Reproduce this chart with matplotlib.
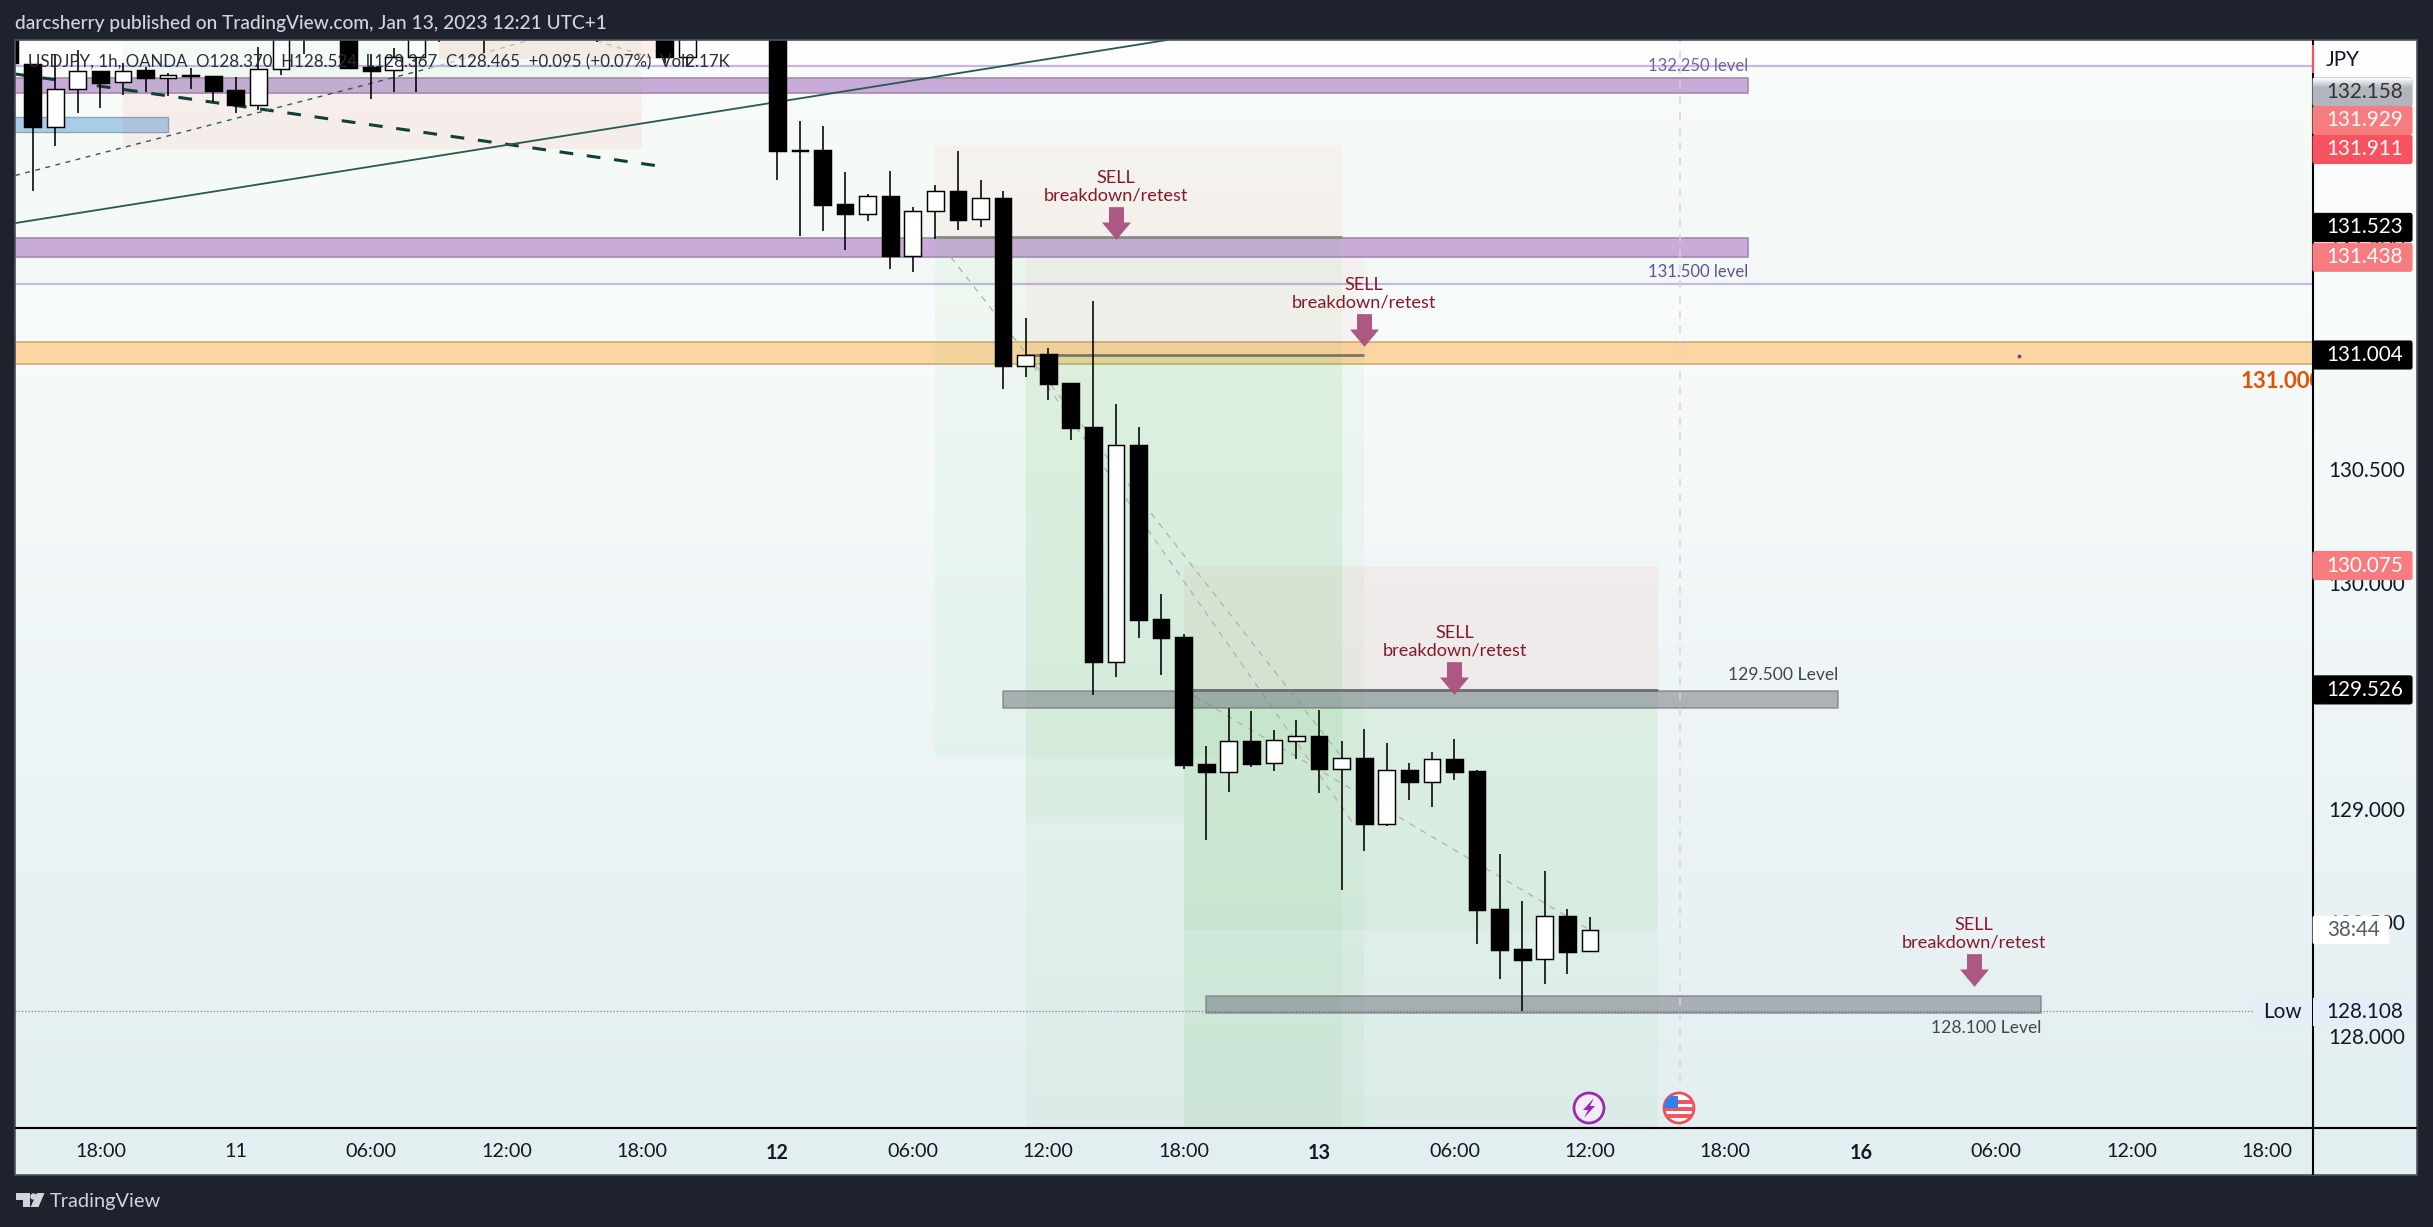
import matplotlib
matplotlib.use('Agg')
import matplotlib.pyplot as plt
import numpy as np
from matplotlib.colors import LinearSegmentedColormap
from matplotlib.patches import Rectangle, Circle, Polygon, FancyBboxPatch
from matplotlib.path import Path

W, H = 2433, 1227
plt.rcParams['font.family'] = ['Lato', 'DejaVu Sans']

# candles: bar number, 0 is the hour after the first 18:00 tick + 0
bars = [-4, -3, -2, -1, 0, 1, 2, 3, 4, 5, 6, 7, 8, 9, 11, 12, 13, 14, 15, 17, 22, 25, 26,
        30, 31, 32, 33, 34, 35, 36, 37, 38, 39, 40, 41, 42, 43, 44, 45, 46, 47, 48, 49,
        50, 51, 52, 53, 54, 55, 56, 57, 58, 59, 60, 61, 62, 63, 64, 65, 66]
opens = [132.45, 132.289, 132.012, 132.177, 132.256, 132.208, 132.262, 132.228, 132.239, 132.236,
         132.174, 132.106, 132.265, 132.50, 132.47, 132.274, 132.262, 132.318, 132.50, 132.52,
         132.50, 132.50, 132.321, 132.50, 131.908, 131.909, 131.671, 131.624, 131.706, 131.443,
         131.638, 131.727, 131.603, 131.697, 130.957, 131.007, 130.879, 130.687, 129.651, 130.607,
         129.839, 129.760, 129.198, 129.166, 129.301, 129.203, 129.302, 129.323, 129.179, 129.226,
         128.936, 129.173, 129.121, 129.222, 129.169, 128.560, 128.383, 128.338, 128.529, 128.373]
highs = [132.45, 132.289, 132.328, 132.350, 132.256, 132.293, 132.277, 132.248, 132.270, 132.236,
         132.230, 132.362, 132.47, 132.55, 132.50, 132.333, 132.358, 132.50, 132.55, 132.55,
         132.55, 132.52, 132.52, 132.52, 132.037, 132.015, 131.811, 131.714, 131.815, 131.658,
         131.755, 131.905, 131.777, 131.727, 131.168, 131.034, 130.879, 131.243, 130.788, 130.687,
         129.948, 129.773, 129.279, 129.445, 129.433, 129.350, 129.394, 129.438, 129.301, 129.354,
         129.292, 129.203, 129.252, 129.308, 129.173, 128.802, 128.595, 128.727, 128.560, 128.523]
lows = [132.293, 131.729, 131.928, 132.074, 132.096, 132.153, 132.165, 132.149, 132.178, 132.120,
        132.071, 132.086, 132.239, 132.333, 132.272, 132.135, 132.166, 132.164, 132.387, 132.337,
        132.383, 132.293, 132.277, 131.777, 131.531, 131.549, 131.469, 131.597, 131.385, 131.372,
        131.515, 131.557, 131.571, 130.856, 130.909, 130.807, 130.629, 129.505, 129.585, 129.757,
        129.594, 129.179, 128.864, 129.077, 129.188, 129.170, 129.222, 129.073, 128.643, 128.815,
        128.926, 129.041, 129.011, 129.129, 128.405, 128.252, 128.109, 128.230, 128.274, 128.373]
closes = [132.293, 132.012, 132.177, 132.256, 132.206, 132.259, 132.228, 132.239, 132.233, 132.171,
          132.105, 132.265, 132.42, 132.42, 132.272, 132.259, 132.318, 132.45, 132.45, 132.46,
          132.44, 132.321, 132.50, 131.902, 131.902, 131.668, 131.624, 131.705, 131.443, 131.638,
          131.727, 131.601, 131.696, 130.957, 131.006, 130.878, 130.684, 129.651, 130.606, 129.836,
          129.757, 129.196, 129.166, 129.300, 129.200, 129.304, 129.322, 129.177, 129.225, 128.936,
          129.172, 129.121, 129.220, 129.166, 128.555, 128.379, 128.336, 128.527, 128.371, 128.466]

time_ticks = [0, 6, 12, 18, 24, 30, 36, 42, 48, 54, 60, 66, 72, 78, 84, 90, 96]
time_labels = ['18:00', '11', '06:00', '12:00', '18:00', '12', '06:00', '12:00', '18:00', '13',
               '06:00', '12:00', '18:00', '16', '06:00', '12:00', '18:00']
bold_labels = ['12', '13', '16']
price_ticks = [128.0, 128.5, 129.0, 129.5, 130.0, 130.5, 131.0, 131.5, 132.0]

# horizontal zones, low/high prices
purple_lows = [132.162, 131.436]
purple_highs = [132.225, 131.519]
purple_end = 73
orange_low, orange_high = 130.963, 131.060
level_lines = [132.280, 131.318]
grey_starts = [40, 49]
grey_ends = [77, 86]
grey_lows = [129.445, 128.100]
grey_highs = [129.522, 128.177]

# position tools
pink_starts = [37, 41, 48, 1, 15]
pink_ends = [55, 56, 69, 24, 24.6]
pink_lows = [131.523, 131.004, 129.526, 131.911, 132.309]
pink_highs = [131.929, 131.438, 130.075, 132.158, 132.5]
pink_alphas = [0.045, 0.045, 0.06, 0.07, 0.09]
green_starts = [37, 41, 41, 48, 48, 48, 1]
green_ends = [55, 56, 55, 69, 69, 55, 24]
green_lows = [129.230, 127.5, 128.939, 127.5, 128.467, 127.5, 132.158]
green_highs = [131.523, 131.004, 131.004, 129.526, 129.526, 128.939, 132.5]
entry_starts = [37, 41, 48]
entry_ends = [55, 56, 69]
entry_prices = [131.523, 131.004, 129.526]
entry_colors = ['#8a8a85', '#77776a', '#666a6a']
diag_x = [(37, 55), (41, 55.5), (48, 66)]
diag_y = [(131.523, 129.230), (131.004, 128.939), (129.526, 128.467)]

# trend lines
thick_dash_x, thick_dash_y = [-3.78, 24.6], [132.244, 131.840]
solid_x, solid_y = [-3.78, 47.27], [131.586, 132.394]
thin_dash_x, thin_dash_y = [-3.78, 14.6], [131.796, 132.27]
thin_grey_x, thin_grey_y = [14.6, 19.06], [132.27, 132.394]
fade_x, fade_y = [22, 24.6], [132.39, 132.31]

sell_bars = [45, 56, 60, 83]
sell_text_prices = [131.746, 131.274, 129.739, 128.451]
arrow_prices = [131.587, 131.113, 129.577, 128.289]
low_price = 128.108

# price tags on the right scale
tag_labels = ['132.158', '131.929', '131.911', '131.523', '131.438', '131.004', '130.075', '129.526']
tag_prices = [132.158, 131.929, 131.911, 131.523, 131.438, 131.004, 130.075, 129.526]
tag_nudges = [-1.5, -25, 0, -10, 0.6, 0, 0, 0]
tag_colors = ['#b2b5be', '#f77c80', '#f7525f', '#000000', '#f77c80', '#000000', '#f77c80', '#000000']
tag_text = ['#333333', 'white', 'white', 'white', 'white', 'white', 'white', 'white']

tick_size = 14.2
price_size = 14.9
note_size = 13.1


def py(price):
    return 355 + (131.004 - price) * 226.6


fig = plt.figure(figsize=(W / 100, H / 100), dpi=100, facecolor='#1e222d')

# gradient behind pane and both scales
bg = fig.add_axes([0, 0, 1, 1], zorder=0)
bg.set_xlim(0, W)
bg.set_ylim(H, 0)
bg.axis('off')
cmap = LinearSegmentedColormap.from_list('pane', ['#ffffff', '#e2eef0'])
bg.imshow(np.linspace(0, 1, 256).reshape(-1, 1), cmap=cmap, aspect='auto', extent=(15, 2417, 1175, 40))
bg.set_xlim(0, W)
bg.set_ylim(H, 0)

ax = fig.add_axes([15 / W, 1 - 1128 / H, 2297.5 / W, 1088 / H], zorder=1)
ax.patch.set_alpha(0)
ax.set_xlim(-3.784, 98.02)
ax.set_ylim(127.593, 132.394)
for s in ax.spines.values():
    s.set_visible(False)

ax.axhspan(level_lines[1], level_lines[0], color='#4caf50', alpha=0.03, lw=0, zorder=0)
for lo, hi in zip(purple_lows, purple_highs):
    ax.fill_between([-4, purple_end], lo, hi, facecolor='#c9abd8', edgecolor='#a688b5', lw=1.2, zorder=1)
ax.axhspan(orange_low, orange_high, facecolor='#fbd6a0', edgecolor='#cfab74', lw=1.2, zorder=1)
for lv in level_lines:
    ax.axhline(lv, color='#c5b8e6', lw=1.6, zorder=1)
ax.fill_between([-4, 3], 131.990, 132.053, facecolor='#a9cde6', edgecolor='#8aa6c0', lw=1, zorder=1)

for a, b, lo, hi, al in zip(pink_starts, pink_ends, pink_lows, pink_highs, pink_alphas):
    ax.fill_between([a, b], lo, hi, color='#f44336', alpha=al, lw=0, zorder=2)
for a, b, lo, hi in zip(green_starts, green_ends, green_lows, green_highs):
    ax.fill_between([a, b], lo, hi, color='#55c255', alpha=0.055, lw=0, zorder=2)
for a, b, p, c in zip(entry_starts, entry_ends, entry_prices, entry_colors):
    ax.plot([a, b], [p, p], color=c, lw=2, zorder=3, solid_capstyle='butt')
for xs, ys in zip(diag_x, diag_y):
    ax.plot(xs, ys, color='#aab3af', lw=0.9, dashes=(5, 5), zorder=3)

for a, b, lo, hi in zip(grey_starts, grey_ends, grey_lows, grey_highs):
    ax.fill_between([a, b], lo, hi, facecolor='#787b86', edgecolor='#6f7375', alpha=0.55, lw=1.4, zorder=3)

ax.plot(thick_dash_x, thick_dash_y, color='#0e4038', lw=2.2, dashes=(4.5, 4.5), zorder=3)
ax.plot(solid_x, solid_y, color='#255a50', lw=1.3, zorder=3)
ax.plot(thin_dash_x, thin_dash_y, color='#2a5f55', lw=1, dashes=(3.5, 4), zorder=3)
ax.plot(thin_grey_x, thin_grey_y, color='#b5bfbc', lw=1, dashes=(3.5, 4), zorder=3)
ax.plot(fade_x, fade_y, color='#b5bfbc', lw=1, dashes=(3.5, 4), zorder=3)
ax.axvline(70, color='#eec9d6', lw=1.1, dashes=(5, 5), zorder=3)
ax.plot([-3.78, 95.4], [low_price, low_price], color='#787b86', lw=0.9, ls=(0, (1, 1.6)), zorder=3)
ax.plot([85], [131.0], marker='o', ms=1.8, color='#a0307a', zorder=3)

# candles
ax.vlines(bars, lows, highs, color='black', lw=1.15, zorder=5)
for b, o, c in zip(bars, opens, closes):
    up = c >= o
    ax.bar(b, abs(c - o), width=0.74, bottom=min(o, c), facecolor='white' if up else 'black',
           edgecolor='black', lw=1.05, zorder=6)

# sell arrows and notes
arrow = Path([(-7.5, 16.35), (7.5, 16.35), (7.5, 1), (14.5, 1), (0, -16.35), (-14.5, 1), (-7.5, 1), (-7.5, 16.35)],
             closed=True)
ax.plot(sell_bars, arrow_prices, ls='none', marker=arrow, ms=32.7 * 72 / 100, mfc='#a9507e', mec='none',
        alpha=0.95, zorder=7)
for b, p in zip(sell_bars, sell_text_prices):
    ax.text(b, p, 'SELL\nbreakdown/retest', color='#85192a', fontsize=note_size, ha='center', va='center',
            linespacing=1.12, zorder=7)

ax.text(73, level_lines[0] + 0.001, '132.250 level', color='#6f60ad', fontsize=12, ha='right', va='center', zorder=7)
ax.text(73, 131.372, '131.500 level', color='#5c5490', fontsize=12, ha='right', va='center', zorder=7)
ax.text(77, 129.592, '129.500 Level', color='#434651', fontsize=12.6, ha='right', va='center', zorder=7)
ax.text(86, 128.036, '128.100 Level', color='#434651', fontsize=12.6, ha='right', va='center', zorder=7)
ax.text(94.84, 130.887, '131.000', color='#e65100', fontsize=16, fontweight='bold', ha='left', va='center',
        clip_on=True, zorder=7)

ax.set_xticks(time_ticks)
ax.set_xticklabels(time_labels)
ax.set_yticks(price_ticks)
ax.set_yticklabels([f'{p:.3f}' for p in price_ticks])
ax.yaxis.tick_right()
ax.tick_params(axis='x', length=0, pad=11, labelsize=tick_size, labelcolor='#131722')
ax.tick_params(axis='y', length=0, pad=11.5, labelsize=price_size, labelcolor='#131722')
for lab in ax.get_xticklabels():
    if lab.get_text() in bold_labels:
        lab.set_fontweight('bold')

# chrome: tags, borders, header and footer in pixels
top = fig.add_axes([0, 0, 1, 1], zorder=2)
top.set_xlim(0, W)
top.set_ylim(H, 0)
top.axis('off')

top.add_patch(Rectangle((15, 40), 2402, 1135, fill=False, ec='#50535e', lw=1.2))
top.plot([2312.5, 2312.5], [40, 1175], color='black', lw=1.5, solid_capstyle='butt')
top.plot([15, 2417], [1128, 1128], color='black', lw=1.5, solid_capstyle='butt')
top.plot([2312.5, 2312.5], [45, 73], color='#f7525f', lw=1.5, solid_capstyle='butt')

for label, price, nudge, col, tcol in zip(tag_labels, tag_prices, tag_nudges, tag_colors, tag_text):
    yc = py(price) + nudge
    top.add_patch(FancyBboxPatch((2313, yc - 14), 99, 28, boxstyle='round,pad=0,rounding_size=2', fc=col, ec=col,
                                 lw=0.8, zorder=3))
    top.text(2365, yc, label, color=tcol, fontsize=price_size, ha='center', va='center', zorder=4)
# fade at top of grey tag
fade = LinearSegmentedColormap.from_list('tagfade', ['#fafbfc', '#b2b5be'])
top.imshow(np.linspace(0, 1, 16).reshape(-1, 1), cmap=fade, aspect='auto', extent=(2313, 2412, 88, 78), zorder=3.5)
top.set_xlim(0, W)
top.set_ylim(H, 0)

top.add_patch(Rectangle((2313, 997.5), 99.5, 28.5, fc='#e3eefa', ec='none', zorder=3))
top.add_patch(Rectangle((2254, 997.5), 58, 28.5, fc='#e3eefa', ec='none', zorder=3))
top.text(2365, 1011.5, '128.108', color='#131722', fontsize=price_size, ha='center', va='center', zorder=4)
top.text(2282, 1011.5, 'Low', color='#131722', fontsize=price_size, ha='center', va='center', zorder=4)
top.add_patch(FancyBboxPatch((2313, 916), 76, 28, boxstyle='round,pad=0,rounding_size=2', fc='white', ec='white',
                             lw=0.5, zorder=3))
top.text(2354, 930, '38:44', color='#555a64', fontsize=price_size, ha='center', va='center', zorder=4)
top.text(2342.7, 60.5, 'JPY', color='#131722', fontsize=price_size, ha='center', va='center', zorder=4)

top.text(28, 62.5, 'USDJPY, 1h, OANDA  O128.370  H128.524  L128.367  C128.465  +0.095 (+0.07%)  Vol2.17K',
         color='#2a2e39', fontsize=12.2, ha='left', va='center', zorder=4)
top.text(15, 23, 'darcsherry published on TradingView.com, Jan 13, 2023 12:21 UTC+1', color='#d1d4dc',
         fontsize=13.8, fontweight='medium', ha='left', va='center')

# event icons
c1 = Circle((1589, 1108), 15, fc='#f3ecf6', ec='#9c27b0', lw=2, zorder=3)
top.add_patch(c1)
top.add_patch(Polygon([(1594, 1098), (1583, 1110), (1588, 1110), (1584, 1118), (1595, 1106), (1590, 1106)],
                      fc='#9c27b0', ec='none', zorder=4))
c2 = Circle((1679, 1108), 15, fc='white', ec='#f04d56', lw=2, zorder=3)
top.add_patch(c2)
for yy in [1100, 1107, 1114]:
    stripe = Rectangle((1664, yy), 30, 4, fc='#f7525f', ec='none', zorder=4)
    top.add_patch(stripe)
    stripe.set_clip_path(c2)
canton = Rectangle((1664, 1096), 14, 12, fc='#2f80ed', ec='none', zorder=5)
top.add_patch(canton)
canton.set_clip_path(c2)

# TradingView mark
top.add_patch(Polygon([(15.5, 1193), (30, 1193), (30, 1207), (22.5, 1207), (22.5, 1200), (15.5, 1200)],
                      fc='#d1d4dc', ec='none'))
top.add_patch(Circle((33.5, 1196.5), 3.2, fc='#d1d4dc', ec='none'))
top.add_patch(Polygon([(37, 1193), (44.5, 1193), (38.5, 1207), (30.5, 1207)], fc='#d1d4dc', ec='none'))
top.text(50, 1201.5, 'TradingView', color='#d1d4dc', fontsize=14.4, ha='left', va='center')

fig.savefig('out.png', dpi=100, facecolor=fig.get_facecolor())
